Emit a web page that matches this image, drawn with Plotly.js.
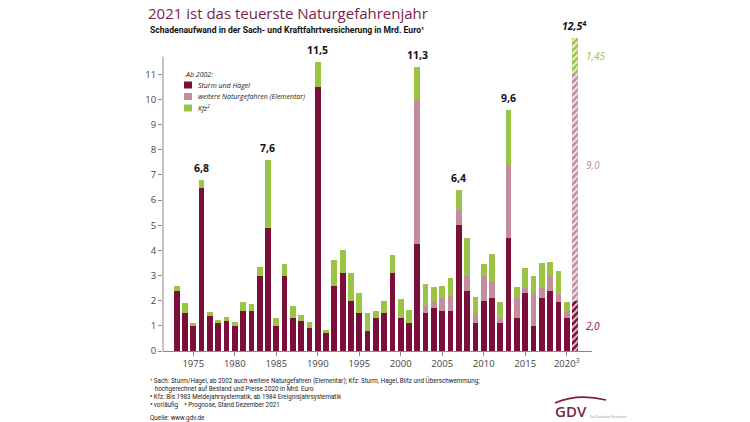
<!DOCTYPE html>
<html>
<head>
<meta charset="utf-8">
<script src="https://cdn.plot.ly/plotly-3.0.1.min.js"></script>
<style>
html,body{margin:0;padding:0;background:#fff;}
#chart{width:750px;height:422px;}
</style>
</head>
<body>
<div id="chart"></div>
<script>
// ---- data ----
const years = [1973,1974,1975,1976,1977,1978,1979,1980,1981,1982,1983,1984,1985,1986,1987,1988,1989,1990,1991,1992,1993,1994,1995,1996,1997,1998,1999,2000,2001,2002,2003,2004,2005,2006,2007,2008,2009,2010,2011,2012,2013,2014,2015,2016,2017,2018,2019,2020,2021];
const sturmHagel = [2.4,1.5,1.0,6.5,1.4,1.1,1.2,1.0,1.6,1.6,3.0,4.9,1.0,3.0,1.3,1.2,0.9,10.5,0.7,2.6,3.1,2.0,1.5,0.8,1.3,1.5,3.1,1.3,1.1,4.25,1.5,1.7,1.6,1.6,5.0,2.4,1.1,2.0,2.1,1.1,4.5,1.3,2.3,1.0,2.1,2.4,1.95,1.3,2.0];
const elementar = [0,0,0,0,0,0,0,0,0,0,0,0,0,0,0,0,0,0,0,0,0,0,0,0,0,0,0,0,0,5.75,0.3,0.3,0.5,0.6,0.6,0.6,0.4,1.0,0.7,0.2,2.9,0.8,0.2,1.3,0.4,0.6,0.3,0.3,9.0];
const kfz = [0.2,0.4,0.1,0.3,0.15,0.15,0.15,0.15,0.35,0.25,0.35,2.7,0.3,0.45,0.5,0.25,0.25,1.0,0.15,1.0,0.9,1.1,0.8,0.7,0.3,0.5,0.7,0.75,0.55,1.3,0.85,0.55,0.5,0.7,0.8,1.5,0.65,0.45,1.05,0.65,2.2,0.45,0.8,0.7,1.0,0.55,0.95,0.35,1.45];
const forecastYear = 2021;
const labelYears = [1976,1984,1990,2002,2007,2013,2021];
const labelTexts = ['6,8','7,6','11,5','11,3','6,4','9,6','<i>12,5</i><sup>4</sup>'];
const forecastTexts = ['2,0','9,0','1,45'];
const xTickVals = [1975,1980,1985,1990,1995,2000,2005,2010,2015,2020];
const xTickText = ['1975','1980','1985','1990','1995','2000','2005','2010','2015','2020<sup>3</sup>'];
const yTickVals = [0,1,2,3,4,5,6,7,8,9,10,11];
const legendTitle = 'Ab 2002:';
const seriesNames = ['Sturm und Hagel','weitere Naturgefahren (Elementar)','Kfz<sup>2</sup>'];
const footnotes = [
  '¹ Sach: Sturm/Hagel, ab 2002 auch weitere Naturgefahren (Elementar); Kfz: Sturm, Hagel, Blitz und Überschwemmung;',
  '   hochgerechnet auf Bestand und Preise 2020 in Mrd. Euro',
  '² Kfz: Bis 1983 Meldejahrsystematik, ab 1984 Ereignisjahrsystematik',
  '³ vorläufig    ⁴ Prognose, Stand Dezember 2021'
];
const sourceText = 'Quelle: www.gdv.de';
const titleText = '2021 ist das teuerste Naturgefahrenjahr';
const subtitleText = 'Schadenaufwand in der Sach- und Kraftfahrtversicherung in Mrd. Euro¹';

// ---- styles ----
const C_STORM = '#7b0f3a', C_ELEM = '#c38e9c', C_KFZ = '#9bc447', C_TITLE = '#7b1f48';
const FONT = 'Open Sans, sans-serif';
const NARROW = 'Liberation Sans Narrow, Roboto, sans-serif';
const patShape = years.map(y => y === forecastYear ? '/' : '');

function barTrace(vals, color, name){
  return {
    type:'bar', x: years, y: vals, name: name, showlegend:false,
    marker:{color: color, line:{width:0},
      pattern:{shape: patShape, fillmode:'overlay', fgcolor:'#ffffff', fgopacity:0.8, size:4.5, solidity:0.4}},
    hoverinfo:'x+y'
  };
}
const traces = [
  barTrace(sturmHagel, C_STORM, seriesNames[0]),
  barTrace(elementar, C_ELEM, seriesNames[1]),
  barTrace(kfz, C_KFZ, seriesNames[2])
];

// plot area geometry in px
const L = 163, R = 158, T = 24, B = 71, W = 750 - L - R, H = 422 - T - B;
const px = x => (x - L) / W;
const py = y => (422 - B - y) / H;

const annotations = [];
labelYears.forEach((yr, i) => {
  const idx = years.indexOf(yr);
  const tot = sturmHagel[idx] + elementar[idx] + kfz[idx];
  annotations.push({x: yr, y: tot, xref:'x', yref:'y', text: labelTexts[i], showarrow:false,
    yanchor:'bottom', yshift: 3, font:{family: FONT, size: 10.5, color:'#111', weight: 700}});
});
{
  const idx = years.indexOf(forecastYear);
  const s = sturmHagel[idx], e = elementar[idx], k = kfz[idx];
  const segY = [s/2, s + e*0.6, s + e + k/2];
  const segC = [C_STORM, C_ELEM, C_KFZ];
  segY.forEach((yv, i) => annotations.push({x: forecastYear, y: yv, xref:'x', yref:'y',
    text: '<i>' + forecastTexts[i] + '</i>', showarrow:false, xanchor:'left', xshift: 9,
    font:{family: FONT, size: 10, color: segC[i]}}));
}
annotations.push({xref:'paper', yref:'paper', x: px(148), y: py(30.5), xanchor:'left', yanchor:'middle',
  text: '<b>' + subtitleText + '</b>', showarrow:false, font:{family: NARROW, size: 8.6, color:'#111'}});
annotations.push({xref:'paper', yref:'paper', x: px(183), y: py(74), xanchor:'left', yanchor:'middle',
  text:'<i>' + legendTitle + '</i>', showarrow:false, font:{family: FONT, size: 7, color:'#222'}});
const legY = [85, 96.5, 108];
const legC = [C_STORM, C_ELEM, C_KFZ];
const shapes = [];
legY.forEach((yy, i) => {
  shapes.push({type:'rect', xref:'paper', yref:'paper', x0: px(184), x1: px(192), y0: py(yy+3.5), y1: py(yy-3.5),
    fillcolor: legC[i], line:{width:0}});
  annotations.push({xref:'paper', yref:'paper', x: px(196), y: py(yy), xanchor:'left', yanchor:'middle',
    text:'<i>' + seriesNames[i] + '</i>', showarrow:false, font:{family: FONT, size: 7, color:'#222'}});
});
shapes.push({type:'line', xref:'paper', yref:'y', x0:0, x1:0, y0:0, y1:11.7, line:{color:'#8a8a8a', width:1}});
const fnY = [381, 389, 397, 405];
footnotes.forEach((t, i) => annotations.push({xref:'paper', yref:'paper', x: px(148), y: py(fnY[i]),
  xanchor:'left', yanchor:'middle', text: t, showarrow:false, font:{family: NARROW, size: 6.3, color:'#222'}}));
annotations.push({xref:'paper', yref:'paper', x: px(148), y: py(418), xanchor:'left', yanchor:'middle',
  text: sourceText, showarrow:false, font:{family: NARROW, size: 6.3, color:'#222'}});
annotations.push({xref:'paper', yref:'paper', x: px(571), y: py(411), xanchor:'center', yanchor:'middle',
  text:'GDV', showarrow:false, font:{family: FONT, size: 15, color: C_TITLE, weight: 600}});
annotations.push({xref:'paper', yref:'paper', x: px(588), y: py(417), xanchor:'left', yanchor:'middle',
  text:'Die Deutschen Versicherer', showarrow:false, font:{family: FONT, size: 3, color:'#888'}});
shapes.push({type:'path', xref:'paper', yref:'paper',
  path: 'M ' + px(555) + ',' + py(403) + ' Q ' + px(578) + ',' + py(393) + ' ' + px(606) + ',' + py(400),
  line:{color: C_TITLE, width: 1.6}});

const layout = {
  width: 750, height: 422,
  margin:{l: L, r: R, t: T, b: B, pad: 0},
  paper_bgcolor:'#fff', plot_bgcolor:'#fff',
  barmode:'stack', bargap: 0.31,
  showlegend:false,
  title:{text: titleText, xref:'container', yref:'container', x: 148/750, xanchor:'left', y: 1 - 14/422, yanchor:'middle',
    font:{family: FONT, size: 15, color: C_TITLE}},
  xaxis:{range:[1971.35, 2023.05], tickvals: xTickVals, ticktext: xTickText, showgrid:false, zeroline:false,
    showline:true, linecolor:'#8a8a8a', linewidth:1, ticks:'outside', ticklen:4, tickcolor:'#8a8a8a',
    tickfont:{family: FONT, size: 9.5, color:'#444'}},
  yaxis:{range:[0, 13], tickvals: yTickVals, showgrid:false, zeroline:false, showline:false,
    ticks:'outside', ticklen:4, tickcolor:'#8a8a8a', tickfont:{family: FONT, size: 9.5, color:'#444'}},
  annotations: annotations,
  shapes: shapes,
  font:{family: FONT}
};
Plotly.newPlot('chart', traces, layout, {displayModeBar:false, staticPlot:true});
</script>
</body>
</html>
